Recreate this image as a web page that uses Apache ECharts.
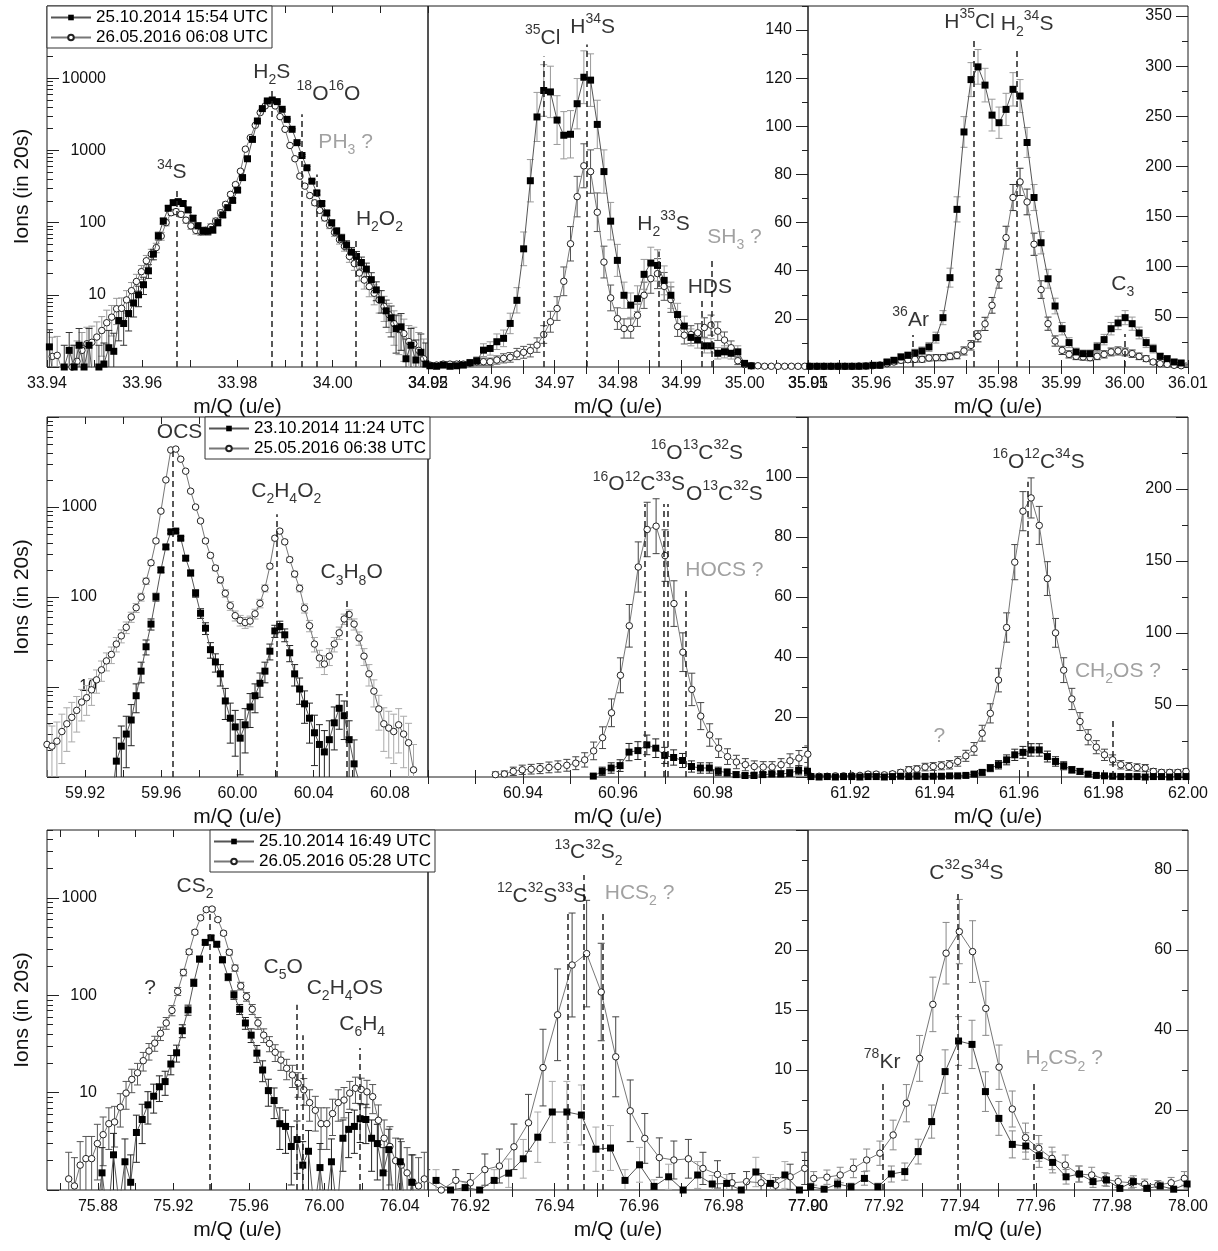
<!DOCTYPE html>
<html>
<head>
<meta charset="utf-8">
<title>Mass spectra</title>
<script src="https://cdn.jsdelivr.net/npm/echarts@6.0.0/dist/echarts.min.js"></script>
<style>
  html, body { margin: 0; padding: 0; background: #fff; }
  #chart { width: 1218px; height: 1251px; }
</style>
</head>
<body>
<div id="chart"></div>
<script>
const FONT = '"Liberation Sans", Arial, sans-serif';

// measurement names (legend)
const p1Names = ['25.10.2014 15:54 UTC', '26.05.2016 06:08 UTC'];
const p4Names = ['23.10.2014 11:24 UTC', '25.05.2016 06:38 UTC'];
const p7Names = ['25.10.2014 16:49 UTC', '26.05.2016 05:28 UTC'];

// ---- row 1, m/Q 34 ----
const p1Step = 0.00104, p1BlackX0 = 33.9405, p1WhiteX0 = 33.9411;
const p1Black = [1.9, 0.5, 0.5, 1.0, 1.7, 1.0, 2.0, 1.0, 2.0, 0.5,
  1.0, 1.1, 1.85, 1.65, 4.4, 4.0, 5.5, 7.7, 10, 13.8,
  21.5, 36.6, 65.5, 105, 158, 189, 195, 184, 150, 115,
  90, 77, 76, 80, 100, 128, 161, 203, 282, 420,
  766, 1420, 2555, 3790, 4840, 4990, 4740, 3710, 2690, 1960,
  1280, 850, 575, 375, 258, 184, 136, 99, 76, 61,
  49, 39, 34, 28, 22.7, 16.2, 11.7, 8.5, 6.0, 4.8,
  3.4, 3.6, 1.3, 2.0, 1.25, 1.6, 1.1];
const p1White = [1.4, 1.45, 0.9, 0.6, 1.0, 1.2, 1.7, 2.1, 2.2, 2.6,
  3.2, 4.1, 4.9, 6.4, 6.5, 8.5, 11.4, 15.3, 20.9, 29.6,
  36.6, 45, 65, 100, 137, 142, 130, 108, 90, 78,
  75, 78, 87, 105, 137, 179, 246, 336, 515, 1040,
  1500, 2225, 3340, 4130, 4500, 4130, 2935, 1960, 1170, 766,
  440, 320, 237, 188, 148, 116, 92, 73, 58, 47,
  34, 27, 20, 16, 13, 10.5, 8.5, 6.9, 5.3, 4.0,
  3.3, 2.9, 2.25, 2.1, 1.7, 1.3];
const p1Lines = [[33.9672, 288], [33.9872, 7000], [33.9935, 3160], [33.9966, 465], [34.0049, 63]];
const p1Tags = [[33.9662, 375, '^34S', 0], [33.9872, 9380, 'H_2S', 0], [33.9991, 4600, '^18O^16O', 0],
  [34.0027, 980, 'PH_3 ?', 1], [34.0098, 86, 'H_2O_2', 0]];
const p1XLabels = [33.94, 33.96, 33.98, 34.00, 34.02];
const p1YLabels = [10, 100, 1000, 10000];

// ---- row 1, m/Q 35 ----
const p2Step = 0.001057, p2X0 = 34.9503;
const p2Black = [0.5, 0.3, 0.8, 0.3, 0.5, 0.8, 1.8, 2.6, 7.0, 7.7,
  10.5, 11.9, 18.1, 27.7, 49.1, 77.4, 103.9, 114.9, 114.3, 102.6,
  96.3, 96.7, 109.4, 120.4, 119.2, 100.8, 81.2, 60.6, 44.3, 29.8,
  25.7, 28.4, 38.5, 43.2, 42.2, 36.0, 29.8, 21.8, 17.0, 12.3,
  11.2, 8.8, 8.8, 5.7, 6.3, 5.7, 6.3, 1.5, 0.5];
const p2White = [0.8, 0.8, 1.2, 1.2, 1.2, 1.2, 1.5, 2.2, 2.2, 2.2,
  2.9, 3.6, 4.0, 5.4, 6.1, 6.8, 9.1, 13.5, 18.8, 24.3,
  35.6, 51.2, 70.8, 83.6, 81.2, 64.3, 43.6, 28.7, 20.1, 16.0,
  16.0, 21.5, 29.8, 36.7, 38.8, 33.5, 28.0, 16.8, 13.2, 13.5,
  14.2, 16.4, 17.4, 14.9, 11.2, 8.0, 2.6, 1.0, 0.5, 0.5,
  0.3, 0.3, 0.3, 0.3, 0.3, 0.3, 0.3];
const p2Lines = [[34.9683, 129], [34.9751, 134], [34.9864, 48], [34.9932, 28], [34.9948, 45.5]];
const p2Tags = [[34.9681, 133, '^35Cl', 0], [34.9760, 137.6, 'H^34S', 0], [34.9872, 56, 'H_2^33S', 0],
  [34.9945, 29.8, 'HDS', 0], [34.9984, 50.5, 'SH_3 ?', 1]];
const p2XLabels = [34.95, 34.96, 34.97, 34.98, 34.99, 35.00, 35.01];
const p2YLabels = [20, 40, 60, 80, 100, 120, 140];

// ---- row 1, m/Q 36 ----
const p3Step = 0.001106, p3X0 = 35.9503;
const p3Black = [0.7, 0.7, 0.7, 0.7, 0.7, 0.7, 0.7, 0.7, 1.0, 1.7,
  1.7, 5.0, 6.7, 10.0, 11.6, 14.0, 16.0, 20.0, 29.3, 49.2,
  89.1, 157.2, 234.4, 286.6, 299.3, 281.1, 251.2, 243.6, 256.9, 276.9,
  270.2, 223.9, 169.0, 123.9, 88.0, 60.8, 38.2, 24.3, 15.0, 13.3,
  13.3, 20.0, 27.3, 38.2, 43.9, 49.2, 43.2, 33.9, 24.3, 18.3,
  10.6, 8.3, 5.0, 4.0, 2.7];
const p3White = [0.7, 0.7, 0.7, 0.7, 0.7, 0.7, 0.7, 1.0, 1.0, 1.3,
  2.0, 3.3, 5.0, 6.7, 7.3, 7.6, 7.6, 9.0, 9.3, 9.3,
  10.6, 11.6, 16, 21.6, 30.6, 43, 61.5, 88, 129, 169,
  184.6, 164.6, 122.4, 77.2, 43.2, 25.9, 16.6, 12.6, 10.6, 10,
  9.3, 10.6, 12.6, 15, 16, 15, 13.3, 10.6, 8.3, 5,
  3.3, 2.7, 1.7, 1.3, 1.0];
const p3Lines = [[35.9666, 32], [35.9761, 328], [35.9830, 319], [36.0000, 33]];
const p3Tags = [[35.9662, 38.4, '^36Ar', 0], [35.9755, 335, 'H^35Cl', 0], [35.9846, 333, 'H_2^34S', 0],
  [35.9997, 74, 'C_3', 0]];
const p3XLabels = [35.95, 35.96, 35.97, 35.98, 35.99, 36.00, 36.01];
const p3YLabels = [50, 100, 150, 200, 250, 300, 350];

// ---- row 2, m/Q 60 ----
const p4Step = 0.0026, p4BlackX0 = 59.9338, p4WhiteX0 = 59.900;
const p4Black = [0.5, 1.5, 2.2, 3.0, 4.3, 8, 15, 28, 50, 100,
  200, 360, 530, 540, 450, 270, 185, 110, 66, 45,
  26, 19, 14, 7, 4.5, 3.6, 2.7, 3.8, 6, 8,
  11, 15, 25, 42, 47, 38, 24, 14, 9.5, 6.5,
  4.5, 3.1, 2.3, 1.9, 2.6, 4.0, 5.8, 4.8, 2.6, 1.4,
  0.9, 0.5];
const p4White = [2.3, 2.2, 2.5, 3.2, 3.9, 4.6, 5.5, 6.8, 7.6, 9.3,
  12, 15.5, 19.5, 23, 30, 37, 46, 60, 76, 100,
  150, 240, 420, 900, 2000, 4300, 4400, 3400, 2500, 1500,
  1000, 700, 420, 290, 210, 155, 110, 80, 62, 55,
  52, 54, 65, 85, 125, 220, 450, 540, 410, 260,
  180, 125, 75, 48, 30, 21, 18, 22, 30, 40,
  57, 64, 50, 35, 22, 14, 9, 5.7, 3.9, 3.5,
  3.2, 3.8, 3.0, 2.4, 1.2];
const p4Lines = [[59.9661, 4370], [60.0207, 830], [60.0571, 98]];
const p4Tags = [[59.9696, 5510, 'OCS', 0], [60.0256, 1218, 'C_2H_4O_2', 0], [60.0599, 150, 'C_3H_8O', 0]];
const p4XLabels = [59.92, 59.96, 60.00, 60.04, 60.08];
const p4YLabels = [10, 100, 1000];

// ---- row 2, m/Q 61 ----
const p5Step = 0.001879, p5BlackX0 = 60.9548, p5WhiteX0 = 60.9342;
const p5Black = [0.3, 1.9, 3.0, 3.8, 8.3, 8.8, 10.7, 9.6, 7.2, 6.5,
  5.5, 3.5, 3.0, 3.0, 1.9, 1.5, 0.8, 0.5, 0.5, 0.8,
  1.0, 1.0, 1.3, 2.2, 1.9];
const p5White = [0.8, 1.0, 1.9,
  2.4, 2.6, 2.8, 3.2, 3.5, 3.9, 4.6, 5.7, 8.7, 13.1,
  21.4, 33.9, 50.4, 70.0, 82.5, 83.6, 73.8, 57.8, 41.6, 29.2,
  20.3, 14.0, 9.6, 6.8, 5.0, 4.1, 3.5, 3.3, 3.3, 4.1,
  5.4, 6.3, 7.6];
const p5Lines = [[60.9657, 91], [60.9696, 91], [60.9705, 91], [60.9742, 63]];
const p5Tags = [[60.9644, 94.6, '^16O^12C^33S', 0], [60.9766, 105, '^16O^13C^32S', 0],
  [60.9824, 91.5, 'O^13C^32S', 0], [60.9824, 66.1, 'HOCS ?', 1]];
const p5XLabels = [60.94, 60.96, 60.98];
const p5YLabels = [20, 40, 60, 80, 100];

// ---- row 2, m/Q 62 ----
const p6Step = 0.001931, p6X0 = 61.9107;
const p6Black = [0.3, 0, 0.3, 0, 0.3, 0.3, 0, 0.3, 0.3, 0,
  0.3, 0.5, 0.3, 0.5, 0.3, 0.5, 0.5, 0.8, 0.8, 1.1,
  2.0, 3.2, 6.2, 8.5, 11.9, 15.4, 17.1, 18.8, 18.8, 14.2,
  10.8, 7.8, 5.0, 3.9, 2.0, 1.1, 0.8, 0.5, 0.3, 0.3,
  0.3, 0, 0.3, 0.3, 0, 0.3, 0.3];
const p6White = [0.5, 0.5, 0.5, 0.8, 0.8, 1.1, 1.1, 2.0, 2.0, 1.5,
  2.2, 3.2, 5.0, 5.5, 6.9, 7.3, 7.8, 8.5, 10.8, 14.7,
  19.5, 30.4, 44.2, 67.3, 103.8, 149.2, 184.6, 193.8, 174.7, 137.8,
  100.1, 74.2, 54.2, 38.5, 27.6, 20.7, 15.4, 11.9, 8.5, 7.3,
  6.6, 6.2, 3.9, 3.2, 3.2, 3.2, 3.9];
const p6Lines = [[61.9621, 205], [61.9821, 39.6]];
const p6Tags = [[61.9646, 213, '^16O^12C^34S', 0], [61.9834, 67.8, 'CH_2OS ?', 1], [61.9411, 22.3, '?', 1]];
const p6XLabels = [61.92, 61.94, 61.96, 61.98, 62.00];
const p6YLabels = [50, 100, 150, 200];

// ---- row 3, m/Q 76 ----
const p7Step = 0.003041, p7BlackX0 = 75.8548, p7WhiteX0 = 75.8645;
const p7Black = [0.5, 0.5, 0.5, 0.5, 0.5, 0.5, 0.5, 0.5, 0.5, 1.5,
  0.5, 2.3, 0.7, 1.95, 1.2, 3.9, 5.3, 7.5, 9.2, 11.5,
  13.0, 19.7, 25.7, 43.3, 70.9, 135, 236, 350, 390, 335,
  232, 154, 101, 72, 52, 39, 25.5, 17.1, 10.5, 8.3,
  4.8, 4.5, 2.8, 3.3, 1.8, 2.5, 0.6, 1.7, 0.6, 1.95,
  0.6, 3.4, 4.2, 4.5, 5.4, 5.3, 3.4, 3.0, 1.5, 2.6,
  0.6, 1.95, 0.5, 1.2, 0.5, 0.5];
const p7White = [1.3, 1.1, 1.8, 2.1, 2.1, 3.0, 3.7, 4.8, 5.0, 7.1,
  9.9, 13.7, 16.0, 21.3, 26.8, 32.3, 40.7, 52.0, 70.0, 110,
  172, 280, 445, 626, 760, 770, 600, 435, 277, 191,
  125, 97, 72, 52, 39, 32, 26, 21.6, 17.8, 15.2,
  12.5, 10.7, 7.9, 6.6, 4.8, 4.8, 6.1, 7.9, 8.4, 9.9,
  11.1, 10.8, 10.2, 9.1, 5.2, 3.4, 2.8, 2.0, 1.8, 1.5,
  1.2, 1.1, 1.3];
const p7Lines = [[75.9391, 705], [75.9852, 80], [75.9884, 39], [76.0189, 28.7]];
const p7Tags = [[75.9315, 1082, 'CS_2', 0], [75.9782, 160, 'C_5O', 0], [76.0109, 96, 'C_2H_4OS', 0],
  [76.0201, 41.4, 'C_6H_4', 0], [75.9076, 96, '?', 0]];
const p7XLabels = [75.88, 75.92, 75.96, 76.00, 76.04];
const p7YLabels = [10, 100, 1000];

// ---- row 3, m/Q 77 ----
const p8Step = 0.003443, p8BlackX0 = 76.9119, p8WhiteX0 = 76.9097;
const p8Black = [0.8, 0, 0.2, 0, 0.8, 1.4, 2.6, 4.4, 6.5, 6.5,
  6.25, 3.4, 3.5, 0.8, 2.1, 0.3, 1.1, 0, 1.25, 0.5,
  0.55, 0, 1.5, 0.55, 1.25, 0];
const p8White = [0.8, 0, 0.8, 0.6, 1.7, 2.0, 3.6, 5.6, 10.2, 14.6,
  18.75, 19.7, 16.5, 11.1, 6.6, 4.3, 2.7, 2.5, 2.6, 1.8,
  1.3, 0.6, 0.7, 0.6, 0.4, 1.1, 1.8];
const p8Lines = [[76.9430, 23.2], [76.9468, 26.25], [76.9513, 23]];
const p8Tags = [[76.9370, 23.8, '^12C^32S^33S', 0], [76.9480, 27.4, '^13C^32S_2', 0], [76.9601, 24, 'HCS_2 ?', 1]];
const p8XLabels = [76.92, 76.94, 76.96, 76.98, 77.00];
const p8YLabels = [5, 10, 15, 20, 25];

// ---- row 3, m/Q 78 ----
const p9BlackX0 = 77.9007, p9BlackStep = 0.003538, p9WhiteX0 = 77.9015, p9WhiteStep = 0.003484;
const p9Black = [0.8, 0.2, 1.5, 0.8, 2.9, 0.8, 4.0, 4.6, 9.6, 17.1,
  29.6, 37.25, 36.4, 24.6, 17.9, 11.4, 11.0, 8.6, 6.9, 3.3,
  4.0, 2.1, 2.5, 0.4, 2.1, 0.4, 1.0, 0.2, 1.5];
const p9White = [2.9, 3.2, 3.75, 5.4, 7.5, 9.2, 13.75, 21.7, 32.9, 46.4,
  59.2, 64.6, 59.6, 45.4, 30.7, 20.25, 13.1, 10.4, 7.9, 6.25,
  4.0, 3.75, 2.7, 2.1, 1.8, 1.5, 1.25, 1.8, 2.9];
const p9Lines = [[77.9197, 27.5], [77.9393, 74.6], [77.9593, 27]];
const p9Tags = [[77.9195, 29.8, '^78Kr', 0], [77.9417, 77.1, 'C^32S^34S', 0], [77.9674, 30.7, 'H_2CS_2 ?', 1]];
const p9XLabels = [77.90, 77.92, 77.94, 77.96, 77.98, 78.00];
const p9YLabels = [20, 40, 60, 80];

// ---------- helpers ----------
function scan(x0, step, values) {
  return values.map((v, i) => [+(x0 + i * step).toFixed(5), v]);
}
// counting uncertainty sqrt(N) for the error bars
function errs(points, log) {
  return points.filter(p => log ? p[1] >= 1 : p[1] > 0).map(p => {
    const e = Math.sqrt(p[1]);
    return [p[0], log ? Math.max(p[1] - e, 0.05) : p[1] - e, p[1] + e];
  });
}
function steps(a, b, s) {
  const out = [];
  for (let k = 0; a + k * s <= b + 1e-9; k++) out.push(+(a + k * s).toFixed(4));
  return out;
}
function logMajor(lo, hi) {
  const out = [];
  for (let d = lo; d <= hi * 1.0001; d *= 10) out.push(d);
  return out;
}
function logMinor(lo, hi) {
  const out = [];
  for (let d = lo; d < hi; d *= 10) for (let k = 2; k < 10; k++) if (d * k <= hi) out.push(d * k);
  return out;
}
function rich(txt, gray) {
  const pre = gray ? 'g' : '';
  return txt.replace(/\^(\d+)|_(\d+)|([^\^_]+)/g, (m, up, dn, plain) =>
    up ? '{' + pre + 'u|' + up + '}' : dn ? '{' + pre + 'd|' + dn + '}' : '{' + pre + 'n|' + plain + '}');
}

const BLACK = '#000', GRAY = '#8a8a8a';
const RICH = {
  n: { fontSize: 21, fontFamily: FONT, color: BLACK, lineHeight: 30 },
  u: { fontSize: 14, fontFamily: FONT, color: BLACK, lineHeight: 18, verticalAlign: 'top' },
  d: { fontSize: 14, fontFamily: FONT, color: BLACK, lineHeight: 12, verticalAlign: 'bottom' },
  gn: { fontSize: 21, fontFamily: FONT, color: GRAY, lineHeight: 30 },
  gu: { fontSize: 14, fontFamily: FONT, color: GRAY, lineHeight: 18, verticalAlign: 'top' },
  gd: { fontSize: 14, fontFamily: FONT, color: GRAY, lineHeight: 12, verticalAlign: 'bottom' }
};

const panels = [
  { grid: [47, 6, 381, 361], xr: [33.94, 34.02], xt: 0.01, xl: p1XLabels,
    log: true, yr: [1, 100000], yl: p1YLabels, side: 'left', lm: 59, names: p1Names,
    b: scan(p1BlackX0, p1Step, p1Black), w: scan(p1WhiteX0, p1Step, p1White),
    ec: ['#333', '#999'], lines: p1Lines, tags: p1Tags },
  { grid: [428, 6, 380, 361], xr: [34.95, 35.01], xt: 0.005, xl: p2XLabels,
    log: false, yr: [0, 150], ys: 20, yl: p2YLabels, side: 'right', lm: 16, names: p1Names,
    b: scan(p2X0, p2Step, p2Black), w: scan(p2X0, p2Step, p2White),
    ec: ['#999', '#555'], lines: p2Lines, tags: p2Tags },
  { grid: [808, 6, 380, 361], xr: [35.95, 36.01], xt: 0.005, xl: p3XLabels,
    log: false, yr: [0, 360], ys: 50, yl: p3YLabels, side: 'right', lm: 16, names: p1Names,
    b: scan(p3X0, p3Step, p3Black), w: scan(p3X0, p3Step, p3White),
    ec: ['#999', '#333'], lines: p3Lines, tags: p3Tags },
  { grid: [47, 417, 381, 360], xr: [59.90, 60.10], xt: 0.02, xl: p4XLabels,
    log: true, yr: [1, 10000], yl: p4YLabels, side: 'left', lm: 50, names: p4Names,
    b: scan(p4BlackX0, p4Step, p4Black), w: scan(p4WhiteX0, p4Step, p4White),
    ec: ['#222', '#aaa'], lines: p4Lines, tags: p4Tags },
  { grid: [428, 417, 380, 360], xr: [60.92, 61.00], xt: 0.01, xl: p5XLabels,
    log: false, yr: [0, 120], ys: 20, yl: p5YLabels, side: 'right', lm: 16, names: p4Names,
    b: scan(p5BlackX0, p5Step, p5Black), w: scan(p5WhiteX0, p5Step, p5White),
    ec: ['#222', '#444'], lines: p5Lines, tags: p5Tags },
  { grid: [808, 417, 380, 360], xr: [61.91, 62.00], xt: 0.01, xl: p6XLabels,
    log: false, yr: [0, 250], ys: 50, yl: p6YLabels, side: 'right', lm: 16, names: p4Names,
    b: scan(p6X0, p6Step, p6Black), w: scan(p6X0, p6Step, p6White),
    ec: ['#222', '#444'], lines: p6Lines, tags: p6Tags },
  { grid: [47, 830, 381, 360], xr: [75.853, 76.055], xt: 0.02, xl: p7XLabels,
    log: true, yr: [1, 5000], yl: p7YLabels, side: 'left', lm: 50, names: p7Names,
    b: scan(p7BlackX0, p7Step, p7Black), w: scan(p7WhiteX0, p7Step, p7White),
    ec: ['#222', '#555'], lines: p7Lines, tags: p7Tags },
  { grid: [428, 830, 380, 360], xr: [76.91, 77.00], xt: 0.01, xl: p8XLabels,
    log: false, yr: [0, 30], ys: 5, yl: p8YLabels, side: 'right', lm: 16, names: p7Names,
    b: scan(p8BlackX0, p8Step, p8Black), w: scan(p8WhiteX0, p8Step, p8White),
    ec: ['#aaa', '#444'], lines: p8Lines, tags: p8Tags },
  { grid: [808, 830, 380, 360], xr: [77.90, 78.00], xt: 0.01, xl: p9XLabels,
    log: false, yr: [0, 90], ys: 20, yl: p9YLabels, side: 'right', lm: 16, names: p7Names,
    b: scan(p9BlackX0, p9BlackStep, p9Black), w: scan(p9WhiteX0, p9WhiteStep, p9White),
    ec: ['#888', '#888'], lines: p9Lines, tags: p9Tags }
];

function errorBar(color) {
  return function (params, api) {
    const x = api.value(0);
    const a = api.coord([x, api.value(1)]);
    const b = api.coord([x, api.value(2)]);
    const style = { stroke: color, lineWidth: 1 };
    return {
      type: 'group',
      children: [
        { type: 'line', shape: { x1: a[0], y1: a[1], x2: b[0], y2: b[1] }, style },
        { type: 'line', shape: { x1: a[0] - 3.5, y1: a[1], x2: a[0] + 3.5, y2: a[1] }, style },
        { type: 'line', shape: { x1: b[0] - 3.5, y1: b[1], x2: b[0] + 3.5, y2: b[1] }, style }
      ]
    };
  };
}

const grids = [], xAxes = [], yAxes = [], series = [];
const tickFont = { fontSize: 16, fontFamily: FONT, color: '#111' };

panels.forEach((p, i) => {
  grids.push({ left: p.grid[0], top: p.grid[1], width: p.grid[2], height: p.grid[3],
    show: true, borderColor: '#1a1a1a', borderWidth: 1, backgroundColor: 'transparent' });

  const xStart = Math.ceil(p.xr[0] / p.xt - 1e-6) * p.xt;
  const xTicks = steps(+xStart.toFixed(4), p.xr[1], p.xt);
  xAxes.push({
    type: 'value', gridIndex: i, position: 'bottom', min: p.xr[0], max: p.xr[1],
    name: 'm/Q (u/e)', nameLocation: 'middle', nameGap: 30,
    nameTextStyle: { fontSize: 21, fontFamily: FONT, color: '#111' },
    axisLine: { show: false }, splitLine: { show: false },
    axisTick: { inside: true, length: 7, customValues: xTicks, lineStyle: { color: '#222' } },
    axisLabel: { customValues: p.xl, margin: 9, formatter: v => v.toFixed(2), ...tickFont }
  });
  xAxes.push({
    type: 'value', gridIndex: i, position: 'top', min: p.xr[0], max: p.xr[1],
    axisLine: { show: false }, splitLine: { show: false }, axisLabel: { show: false },
    axisTick: { inside: true, length: 7, customValues: xTicks, lineStyle: { color: '#222' } }
  });

  const major = p.log ? logMajor(p.yr[0], p.yr[1]) : steps(0, p.yr[1], p.ys);
  const minor = p.log ? logMinor(p.yr[0], p.yr[1]) : steps(p.ys / 2, p.yr[1], p.ys);
  const yBase = {
    type: p.log ? 'log' : 'value', logBase: 10, gridIndex: i, position: p.side,
    min: p.yr[0], max: p.yr[1], axisLine: { show: false }, splitLine: { show: false }
  };
  const yMain = Object.assign({}, yBase, {
    axisTick: { inside: true, length: 12, customValues: major, lineStyle: { color: '#222' } },
    axisLabel: { inside: true, margin: p.lm, customValues: p.yl, formatter: v => String(v),
      align: 'right', ...tickFont }
  });
  if (p.side === 'left') {
    Object.assign(yMain, { name: 'Ions (in 20s)', nameLocation: 'middle', nameGap: 14,
      nameTextStyle: { fontSize: 21, fontFamily: FONT, color: '#111' } });
  }
  yAxes.push(yMain);
  yAxes.push(Object.assign({}, yBase, {
    axisLabel: { show: false },
    axisTick: { inside: true, length: 6, customValues: minor, lineStyle: { color: '#222' } }
  }));

  const ax = { xAxisIndex: 2 * i, yAxisIndex: 2 * i };
  series.push(Object.assign({
    type: 'custom', data: errs(p.w, p.log), clip: true, silent: true, z: 2,
    renderItem: errorBar(p.ec[1]), encode: { x: 0, y: [1, 2] }
  }, ax));
  series.push(Object.assign({
    type: 'custom', data: errs(p.b, p.log), clip: true, silent: true, z: 2,
    renderItem: errorBar(p.ec[0]), encode: { x: 0, y: [1, 2] }
  }, ax));
  series.push(Object.assign({
    type: 'line', name: p.names[1], data: p.w, symbol: 'circle', symbolSize: 6.5,
    showAllSymbol: true, clip: true, z: 3, emphasis: { disabled: true },
    itemStyle: { color: '#fff', borderColor: '#222', borderWidth: 1 },
    lineStyle: { color: '#777', width: 1 }
  }, ax));
  series.push(Object.assign({
    type: 'line', name: p.names[0], data: p.b, symbol: 'rect', symbolSize: 7,
    showAllSymbol: true, clip: true, z: 4, emphasis: { disabled: true },
    itemStyle: { color: '#000' },
    lineStyle: { color: '#555', width: 1 }
  }, ax));
  const bottom = p.log ? p.yr[0] : 0;
  series.push(Object.assign({
    type: 'scatter', symbolSize: 1, silent: true, z: 6, itemStyle: { color: 'rgba(0,0,0,0)' },
    data: p.tags.map(t => ({ value: [t[0], t[1]], label: { formatter: rich(t[2], t[3]) } })),
    label: { show: true, position: 'top', distance: -7, rich: RICH },
    markLine: {
      silent: true, symbol: ['none', 'none'], label: { show: false }, animation: false,
      lineStyle: { type: [6, 4], color: '#222', width: 1.5 },
      data: p.lines.map(l => [{ coord: [l[0], bottom] }, { coord: [l[0], l[1]] }])
    }
  }, ax));
});

const legendBase = {
  orient: 'vertical', backgroundColor: '#fff', borderColor: '#333', borderWidth: 1,
  padding: [3, 4, 2, 3], itemGap: 3, itemWidth: 40, itemHeight: 7,
  textStyle: { fontSize: 17, fontFamily: FONT, color: '#000' }, selectedMode: false
};
const legends = [
  Object.assign({ data: p1Names, left: 47, top: 6 }, legendBase),
  Object.assign({ data: p4Names, left: 205, top: 417 }, legendBase),
  Object.assign({ data: p7Names, left: 210, top: 830 }, legendBase)
];

const chart = echarts.init(document.getElementById('chart'));
chart.setOption({
  backgroundColor: '#fff',
  animation: false,
  textStyle: { fontFamily: FONT },
  legend: legends,
  grid: grids,
  xAxis: xAxes,
  yAxis: yAxes,
  series: series
});
</script>
</body>
</html>
